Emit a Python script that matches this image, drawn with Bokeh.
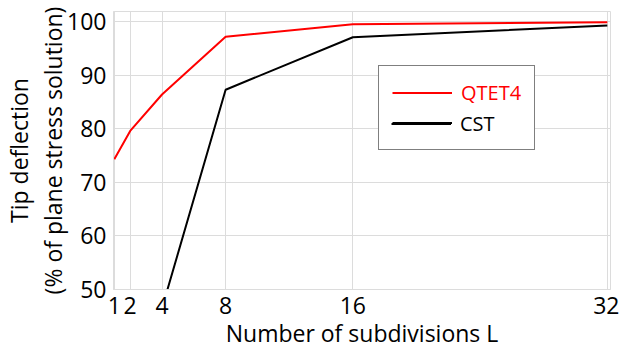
from bokeh.plotting import figure
from bokeh.models import Legend, LegendItem, FixedTicker, Range1d
from bokeh.embed import file_html
from bokeh.resources import INLINE

subdivisions = [1, 2, 4, 8, 16, 32]
qtet4 = [74.3, 79.6, 86.4, 97.2, 99.5, 99.9]
cst = [20.0, 30.0, 46.5, 87.3, 97.1, 99.3]
x_ticks = [1, 2, 4, 8, 16, 32]
y_ticks = [50, 60, 70, 80, 90, 100]

FONT = "Open Sans"
GRID = "#dcdcdc"
AXFS = "23px"
LEGFS = "20px"

p = figure(width=619, height=351, output_backend="svg", toolbar_location=None,
           x_range=Range1d(0.95, 32.2), y_range=Range1d(50, 101.9))
p.min_border_left = 113
p.min_border_right = 9
p.min_border_top = 11
p.min_border_bottom = 61
p.outline_line_color = GRID
p.outline_line_width = 1

r1 = p.line(subdivisions, qtet4, line_color="#ff0000", line_width=2)
r2 = p.line(subdivisions, cst, line_color="#000000", line_width=2)

for ax in (p.xaxis[0], p.yaxis[0]):
    ax.axis_line_color = GRID
    ax.major_tick_line_color = None
    ax.minor_tick_line_color = None
    ax.major_tick_out = 0
    ax.major_tick_in = 0
    ax.minor_tick_out = 0
    ax.minor_tick_in = 0
    ax.major_label_text_font = FONT
    ax.major_label_text_font_size = AXFS
    ax.major_label_text_color = "#000000"
    ax.axis_label_text_font = FONT
    ax.axis_label_text_font_size = AXFS
    ax.axis_label_text_font_style = "normal"
    ax.axis_label_text_color = "#000000"
    ax.axis_label_text_line_height = 1.05

p.xaxis.ticker = FixedTicker(ticks=x_ticks)
p.yaxis.ticker = FixedTicker(ticks=y_ticks)
p.xaxis.axis_label = "Number of subdivisions L"
p.yaxis.axis_label = "Tip deflection\n(% of plane stress solution)"
p.xaxis.major_label_standoff = 7
p.yaxis.major_label_standoff = 7
p.xaxis.axis_label_standoff = 0
p.yaxis.axis_label_standoff = -5

p.xgrid.ticker = FixedTicker(ticks=x_ticks)
p.ygrid.ticker = FixedTicker(ticks=y_ticks)
p.xgrid.grid_line_color = GRID
p.ygrid.grid_line_color = GRID

LX, LY = 265, 139


def style_legend(lg):
    lg.label_text_font = FONT
    lg.label_text_font_size = LEGFS
    lg.glyph_width = 60
    lg.label_standoff = 9
    lg.padding = 13
    lg.spacing = 3
    lg.label_height = 27
    lg.glyph_height = 27
    lg.margin = 0


legend_a = Legend(items=[LegendItem(label="QTET4", renderers=[r1]),
                         LegendItem(label=" ", renderers=[r2])],
                  location=(LX, LY))
style_legend(legend_a)
legend_a.border_line_color = "#000000"
legend_a.border_line_width = 1
legend_a.background_fill_alpha = 1
legend_a.label_text_color = "#ff0000"

legend_b = Legend(items=[LegendItem(label="CST", renderers=[r2])],
                  location=(LX, LY))
style_legend(legend_b)
legend_b.border_line_alpha = 0
legend_b.background_fill_alpha = 0
legend_b.label_text_color = "#000000"

p.add_layout(legend_a, "center")
p.add_layout(legend_b, "center")

open("out.html", "w").write(file_html(p, INLINE))
